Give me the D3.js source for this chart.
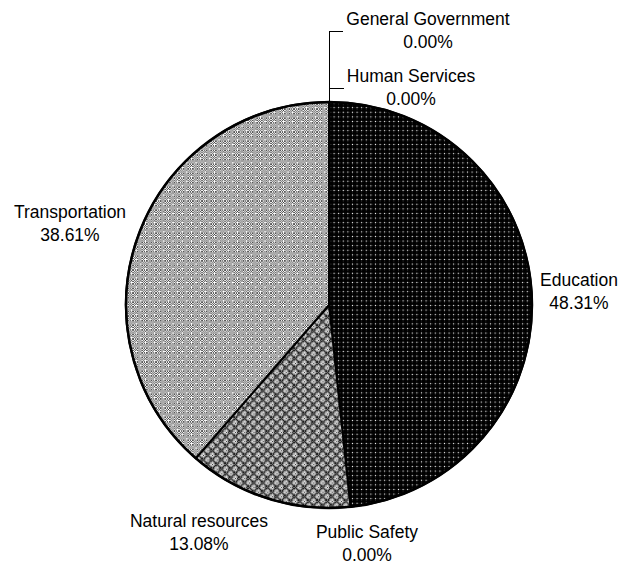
<!DOCTYPE html>
<html>
<head>
<meta charset="utf-8">
<script src="https://cdn.jsdelivr.net/npm/d3@7/dist/d3.min.js"></script>
<style>
  body { margin: 0; background: #fff; }
  svg { display: block; }
  text { font-family: "Liberation Sans", Arial, sans-serif; font-size: 17.5px; fill: #000; }
</style>
</head>
<body>
<svg id="chart" width="625" height="564"></svg>
<script>
// Spending shares by program area (percent of total)
const categories = ["Education", "Public Safety", "Natural resources", "Transportation", "Human Services", "General Government"];
const shares = [48.31, 0, 13.08, 38.61, 0, 0];
const fillNames = ["dots", "dots", "mesh", "lattice", "lattice", "lattice"];

// Where each two-line label block sits (centre x, first baseline y)
const labelSpots = {
  "Education": [579, 286],
  "Public Safety": [367, 538],
  "Natural resources": [199, 527],
  "Transportation": [70, 218],
  "Human Services": [411, 82],
  "General Government": [428, 25]
};
const leaderLabels = ["Human Services", "General Government"];

const cx = 329, cy = 305, R = 203;
const lineGap = 23;

const svg = d3.select("#chart");
const defs = svg.append("defs");

// 8x8 pixel tiles for the hatch fills
const tiles = {
  dots: {
    colors: { "#": "#000", "o": "#ffffff", "-": "#222" },
    rows: [
      "o-#-o-#-",
      "-###-###",
      "########",
      "-###-###",
      "o-#-o-#-",
      "-###-###",
      "########",
      "-###-###"
    ]
  },
  lattice: {
    colors: { "w": "#fff", "k": "#555", "d": "#222" },
    rows: [
      "wwkwkwkw",
      "wkwkwkwk",
      "kwkwdwkw",
      "wkwkwkwk",
      "kwkwwwkw",
      "wkwkwkwk",
      "dwkwkwkw",
      "wkwkwkwk"
    ]
  },
  mesh: {
    colors: { "k": "#1e1e1e", "g": "#7a7a7a", "w": "#e0e0e0", "m": "#b0b0b0" },
    rows: [
      "kgmgkgmg",
      "gmwmgkgk",
      "mwkwmgkg",
      "gmwmgkgk",
      "kgmgkgmg",
      "gkgkgmwm",
      "kgkgmwkw",
      "gkgkgmwm"
    ]
  }
};

Object.entries(tiles).forEach(([name, t]) => {
  const p = defs.append("pattern")
    .attr("id", "fill-" + name)
    .attr("patternUnits", "userSpaceOnUse")
    .attr("width", 8).attr("height", 8)
    .attr("patternTransform", "scale(1.15)");
  t.rows.forEach((row, y) => {
    row.split("").forEach((ch, x) => {
      p.append("rect")
        .attr("x", x).attr("y", y).attr("width", 1).attr("height", 1)
        .attr("fill", t.colors[ch] || "#fff")
        .attr("shape-rendering", "crispEdges");
    });
  });
});

const data = categories.map((c, i) => ({ name: c, value: shares[i], fill: fillNames[i] }));

const pie = d3.pie().sort(null).value(d => d.value).startAngle(0).endAngle(2 * Math.PI);
const arcs = pie(data);
const arc = d3.arc().innerRadius(0).outerRadius(R);

const g = svg.append("g").attr("transform", `translate(${cx},${cy})`);

g.selectAll("path.slice")
  .data(arcs.filter(d => d.value > 0))
  .join("path")
  .attr("class", "slice")
  .attr("d", arc)
  .attr("fill", d => `url(#fill-${d.data.fill})`)
  .attr("stroke", "#000")
  .attr("stroke-width", 2)
  .attr("stroke-linejoin", "round");

// heavy outline around the whole pie
g.append("circle")
  .attr("r", R)
  .attr("fill", "none")
  .attr("stroke", "#000")
  .attr("stroke-width", 2.5);

const fmt = v => d3.format(".2f")(v) + "%";

const labels = svg.append("g");
arcs.forEach(d => {
  const [lx, ly] = labelSpots[d.data.name];
  const t = labels.append("text").attr("text-anchor", "middle");
  t.append("tspan").attr("x", lx).attr("y", ly).text(d.data.name);
  t.append("tspan").attr("x", lx).attr("y", ly + lineGap).text(fmt(d.data.value));

  if (leaderLabels.includes(d.data.name)) {
    const bb = t.node().getBBox();
    const a = d.startAngle;
    const px = cx + R * Math.sin(a);
    const py = cy - R * Math.cos(a);
    const my = bb.y + bb.height / 2 + 1;
    labels.append("path")
      .attr("d", `M${px},${py - 1}V${my}H${bb.x - 3}`)
      .attr("fill", "none")
      .attr("stroke", "#000")
      .attr("stroke-width", 1)
      .attr("shape-rendering", "crispEdges");
  }
});
</script>
</body>
</html>
